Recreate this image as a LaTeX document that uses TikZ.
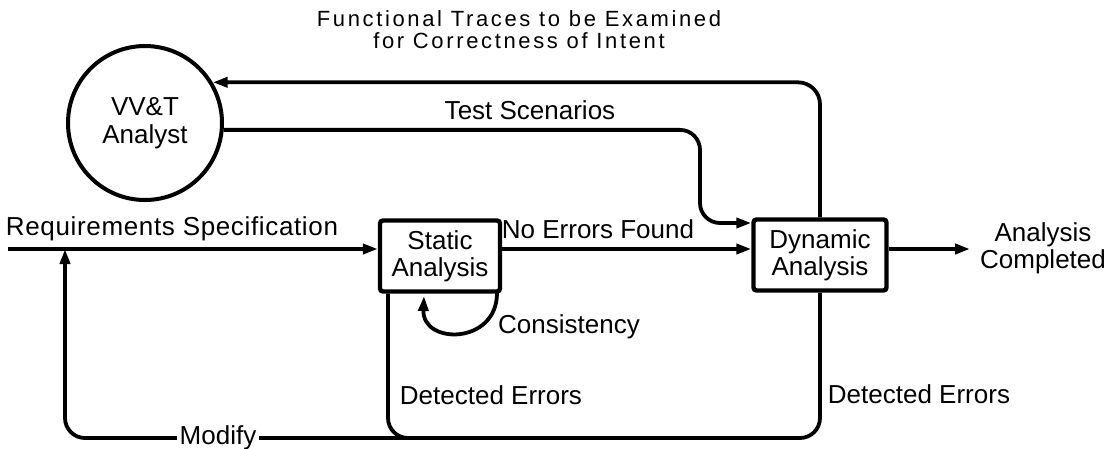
\documentclass[tikz,border=0pt]{standalone}
\usepackage{fontspec}
\setmainfont{Liberation Sans}
\newfontfamily\titlefont[LetterSpace=12]{Liberation Sans}
\newfontfamily\widefont[LetterSpace=2.5]{Liberation Sans}
\usetikzlibrary{arrows.meta}
\begin{document}
\begin{tikzpicture}[x=1pt,y=-1pt,
  conn/.style={line width=3.8pt},
  arr/.style={conn, -{Triangle[length=15pt,width=10pt]}},
  box/.style={draw, line width=4.4pt, rounded corners=3pt, inner sep=0pt, align=center,
    font=\fontsize{26}{27}\selectfont},
  lbl/.style={inner sep=0pt, align=center, font=\fontsize{26}{27}\selectfont},
  ttl/.style={inner sep=0pt, align=center, font=\titlefont\fontsize{22}{22}\selectfont},
]
\useasboundingbox (0,0) rectangle (1109,448);

% nodes
\node[draw, circle, line width=4pt, minimum size=154pt, inner sep=0pt, align=center,
      font=\fontsize{26}{28}\selectfont] (vv) at (145,123) {VV\&T\\Analyst};
\node[box, minimum width=120pt, minimum height=71pt] (static) at (440,256) {Static\\Analysis};
\node[box, minimum width=133pt, minimum height=71pt] (dyn) at (820,255) {Dynamic\\Analysis};

% coordinates
\coordinate (reqstart) at (8,249);
\coordinate (outend) at (970,249);
\coordinate (tsc) at (700,223);
\coordinate (botL) at (65,438);
\coordinate (sx) at (388,0);
\coordinate (sj) at (440,438);
\coordinate (cr) at (497,293);
\coordinate (cl) at (424,296);

% connectors
\draw[arr] (reqstart) -- (reqstart -| static.west);
\draw[arr] (static.east |- reqstart) -- (dyn.west |- reqstart);
\draw[arr] (dyn.east |- outend) -- (outend);
\draw[arr, rounded corners=20pt] (vv.-5) -| (tsc) -- (dyn.west |- tsc);
\draw[arr, rounded corners=22pt] (dyn.north) |- (vv.31);
\draw[arr, rounded corners=20pt] (dyn.south) |- (botL) -- (reqstart -| botL);
\draw[conn, rounded corners=20pt] (static.south -| sx) |- (sj);
\draw[arr] (cr) .. controls (497,345) and (422,345) .. (cl);

% labels
\node[ttl] (title) at (519,30) {Functional Traces to be Examined\\for Correctness of Intent};
\node[lbl] (tslbl) at (530,110) {Test Scenarios};
\node[lbl, font=\widefont\fontsize{26}{27}\selectfont] (reqlbl) at (172,229) {Requirements Specification};
\node[lbl] (nelbl) at (598,229) {No Errors Found};
\node[lbl] (conslbl) at (569,327) {Consistency};
\node[lbl] (de1) at (491,395) {Detected Errors};
\node[lbl] (de2) at (919,394) {Detected Errors};
\node[lbl] (done) at (1043,248) {Analysis\\Completed};
\node[lbl, fill=white, inner xsep=3pt, inner ysep=2pt] (modify) at (218,438) {Modify};
\end{tikzpicture}
\end{document}
